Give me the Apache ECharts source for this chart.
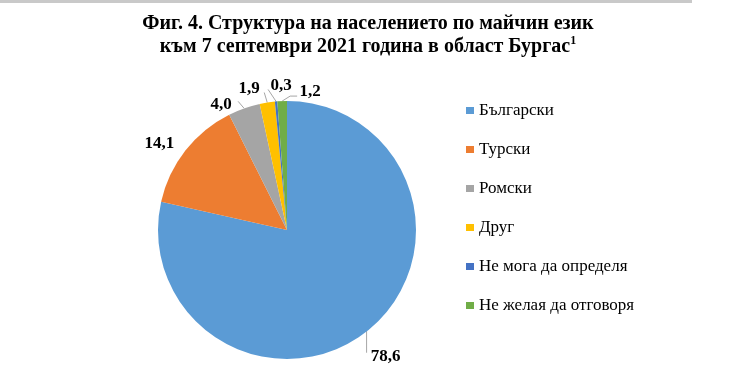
<!DOCTYPE html>
<html>
<head>
<meta charset="utf-8">
<script src="https://cdn.jsdelivr.net/npm/echarts@6/dist/echarts.min.js"></script>
<style>html,body{margin:0;padding:0;background:#fff;}#c{width:736px;height:373px;}</style>
</head>
<body>
<div id="c"></div>
<script>
const categories = ['Български', 'Турски', 'Ромски', 'Друг', 'Не мога да определя', 'Не желая да отговоря'];
const values = [78.6, 14.1, 4.0, 1.9, 0.3, 1.2];
const colors = ['#5B9BD5', '#ED7D31', '#A5A5A5', '#FFC000', '#4472C4', '#70AD47'];

const chart = echarts.init(document.getElementById('c'), null, {renderer: 'canvas'});
const serif = '"Liberation Serif", "Times New Roman", serif';
const data = categories.map((n, i) => ({
  name: n, value: values[i], itemStyle: {color: colors[i]},
  labelLine: {show: i !== 1}
}));

// label placement relative to the slice's outer mid-point (Excel-like "best fit")
const labelOffsets = [[18, 26], [-26, -7], [-23, -4], [-18, -14], [5, -16], [28, -9]];
const lineBends = [
  [[-1, 0], [-1, 22]],
  null,
  [[0, 0], [-6, -7]],
  [[0, 0], [-3, -10]],
  [[0, 0], [-8, -12]],
  [[0, 0], [8, -5], [15, -5]]
];
const CX = 287, CY = 230, R = 129;
const total = values.reduce((a, b) => a + b, 0);
function edgePoint(i) {
  let before = 0;
  for (let k = 0; k < i; k++) before += values[k];
  const a = ((before + values[i] / 2) / total) * 2 * Math.PI;
  return [CX + R * Math.sin(a), CY - R * Math.cos(a)];
}

chart.setOption({
  animation: false,
  backgroundColor: '#fff',
  graphic: [{type: 'rect', shape: {x: 0, y: 0, width: 692, height: 3}, style: {fill: '#c9c9c9'}, silent: true}],
  title: {
    text: 'Фиг. 4. Структура на населението по майчин език\nкъм 7 септември 2021 година в област Бургас{sup|1}',
    left: 'center',
    top: 12,
    padding: 0,
    textStyle: {
      fontFamily: serif, fontWeight: 'bold', fontSize: 20, lineHeight: 23, color: '#000',
      rich: {sup: {fontFamily: serif, fontWeight: 'bold', fontSize: 12, verticalAlign: 'top', padding: [0, 0, 8, 0], color: '#000'}}
    }
  },
  legend: {
    orient: 'vertical',
    left: 466,
    top: 102,
    padding: 0,
    itemWidth: 8,
    itemHeight: 7,
    itemGap: 22,
    icon: 'rect',
    textStyle: {fontFamily: serif, fontSize: 17, lineHeight: 17, color: '#000'},
    data: categories
  },
  series: [{
    type: 'pie',
    center: [CX, CY],
    radius: R,
    startAngle: 90,
    clockwise: true,
    data: data,
    avoidLabelOverlap: false,
    itemStyle: {borderWidth: 0},
    emphasis: {disabled: true},
    label: {
      show: true,
      position: 'outside',
      formatter: p => p.value.toFixed(1).replace('.', ','),
      fontFamily: serif, fontWeight: 'bold', fontSize: 17, color: '#000'
    },
    labelLine: {show: true, length: 10, length2: 4, lineStyle: {color: '#A6A6A6', width: 1}},
    labelLayout: function (params) {
      const i = params.dataIndex;
      const p0 = edgePoint(i);
      const off = labelOffsets[i];
      const res = {x: p0[0] + off[0], y: p0[1] + off[1], align: 'center', verticalAlign: 'middle'};
      if (lineBends[i]) {
        res.labelLinePoints = lineBends[i].map(d => [p0[0] + d[0], p0[1] + d[1]]);
      }
      return res;
    }
  }]
});
</script>
</body>
</html>
